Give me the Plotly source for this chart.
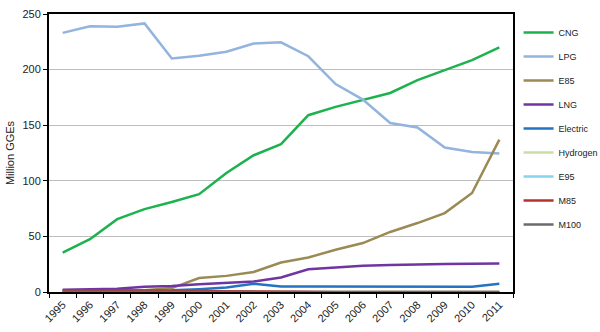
import plotly.graph_objects as go

years = [str(y) for y in range(1995, 2012)]

cng = [35.5, 47.5, 65.5, 74.5, 81, 88, 107, 123, 133, 159, 166.5, 172.5, 179, 190.5, 199.5, 208.5, 220]
lpg = [233, 239, 238.5, 241.5, 210, 212.5, 216, 223.5, 224.5, 212, 187, 173, 152, 148, 130, 126, 124.5]
e85 = [1, 1, 1, 1.5, 3.5, 12.5, 14.5, 18, 26.5, 31, 38, 44, 54, 62, 71, 89, 137]
lng = [2, 2.5, 3, 4.8, 5.5, 7, 8.5, 9.5, 13, 20.5, 22, 23.5, 24.3, 25, 25.2, 25.5, 25.7]
electric = [1, 1, 1, 1.2, 1.5, 2.5, 4, 7.5, 5, 5, 5, 5, 4.8, 5, 4.8, 4.8, 7.5]
hydrogen = [0.3, 0.3, 0.3, 0.3, 0.3, 0.2, 0.2, 0.2, 0.2, 0.2, 0.2, 0.2, 0.2, 0.2, 0.2, 0.2, 0.2]
e95 = [0.4, 0.3, 0.2, 0.1, 0.1, 0.1, 0, 0, 0, 0, 0, 0, 0, 0, 0, 0, 0]
m85 = [1.5, 1.3, 1.2, 1.0, 0.8, 0.5, 0.3, 0.2, 0.1, 0.05, 0, 0, 0, 0, 0, 0, 0]
m100 = [0.2, 0.2, 0.1, 0.1, 0.1, 0.1, 0, 0, 0, 0, 0, 0, 0, 0, 0, 0, 0]

series = [
    ("CNG", cng, "#1db24e"),
    ("LPG", lpg, "#92b4de"),
    ("E85", e85, "#9a8b55"),
    ("LNG", lng, "#7035a3"),
    ("Electric", electric, "#2274c3"),
    ("Hydrogen", hydrogen, "#c8e0a4"),
    ("E95", e95, "#86d3ef"),
    ("M85", m85, "#b8302a"),
    ("M100", m100, "#6b6b6b"),
]

fig = go.Figure()
for name, vals, color in series:
    fig.add_trace(go.Scatter(
        x=years, y=vals, name=name, mode="lines",
        line=dict(color=color, width=2.5),
        legendgroup=name,
    ))

font = "Arial, 'Liberation Sans', sans-serif"
fig.update_layout(
    width=600, height=332,
    margin=dict(l=49, r=87, t=14, b=40, autoexpand=False),
    paper_bgcolor="white", plot_bgcolor="white",
    font=dict(family=font, size=11, color="#222"),
    showlegend=True,
    legend=dict(
        x=1.012, xanchor="left", y=0.986, yanchor="top",
        font=dict(size=9, color="#222"),
        tracegroupgap=5,
        bgcolor="rgba(0,0,0,0)",
    ),
    xaxis=dict(
        type="category", range=[-0.5, len(years) - 0.5], automargin=False,
        showline=True, linecolor="black", linewidth=2, mirror=True,
        ticks="outside", tickson="boundaries", ticklen=4, tickcolor="black", tickwidth=1,
        tickangle=-45, tickfont=dict(size=11),
        showgrid=False, layer="below traces",
    ),
    yaxis=dict(
        range=[0, 250], tickvals=[0, 50, 100, 150, 200, 250], automargin=False,
        showline=True, linecolor="black", linewidth=2, mirror=True,
        ticks="outside", ticklen=4, tickcolor="black", tickwidth=1,
        showgrid=True, gridcolor="#bdbdbd", gridwidth=1,
        zeroline=False,
        title=dict(text="Million GGEs", font=dict(size=11), standoff=6),
        tickfont=dict(size=11),
        layer="below traces",
    ),
)

fig.write_html("out.html")
